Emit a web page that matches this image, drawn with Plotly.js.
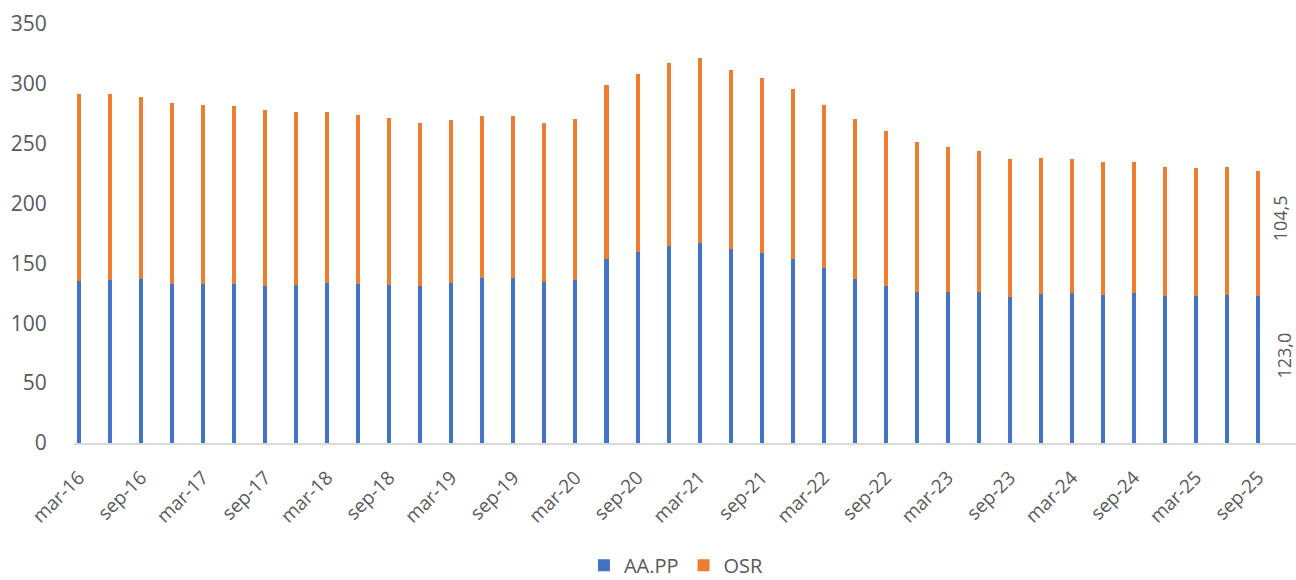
<!DOCTYPE html>
<html>
<head>
<meta charset="utf-8">
<script src="https://cdn.plot.ly/plotly-3.0.1.min.js"></script>
<style>html,body{margin:0;padding:0;background:#fff;}#chart{width:1296px;height:580px;}</style>
</head>
<body>
<div id="chart"></div>
<script>
const categories = [
  "mar-16","jun-16","sep-16","dic-16",
  "mar-17","jun-17","sep-17","dic-17",
  "mar-18","jun-18","sep-18","dic-18",
  "mar-19","jun-19","sep-19","dic-19",
  "mar-20","jun-20","sep-20","dic-20",
  "mar-21","jun-21","sep-21","dic-21",
  "mar-22","jun-22","sep-22","dic-22",
  "mar-23","jun-23","sep-23","dic-23",
  "mar-24","jun-24","sep-24","dic-24",
  "mar-25","jun-25","sep-25"
];
const aapp = [
  135.6,136.4,136.7,133.1,
  132.6,133.1,131.4,132.0,
  133.9,133.1,132.0,130.9,
  133.9,138.1,138.1,134.5,
  136.4,153.7,159.8,164.8,
  167.1,161.8,159.0,153.7,
  145.9,137.0,131.4,126.4,
  126.4,126.1,122.0,124.7,
  125.6,123.9,125.3,122.5,
  123.1,123.6,123.0
];
const osr = [
  155.7,154.9,152.3,151.2,
  150.0,148.7,146.5,144.3,
  142.4,141.2,139.2,136.4,
  136.2,135.1,134.8,132.6,
  134.0,145.4,148.2,152.9,
  154.3,149.6,145.9,142.3,
  136.5,133.4,129.2,125.1,
  121.1,117.8,115.0,113.1,
  111.4,111.1,109.4,107.8,
  106.9,107.0,104.5
];
const seriesNames = ["AA.PP","OSR"];
const tickLabels = ["mar-16","sep-16","mar-17","sep-17","mar-18","sep-18","mar-19","sep-19","mar-20","sep-20",
  "mar-21","sep-21","mar-22","sep-22","mar-23","sep-23","mar-24","sep-24","mar-25","sep-25"];

const FONT = "Open Sans, Liberation Sans, sans-serif";
const GREY = "#595959";
const fmt = v => v.toFixed(1).replace('.', ',');

const last = categories.length - 1;
const traces = [
  {type:'bar', name:seriesNames[0], x:categories, y:aapp, width:0.13,
   marker:{color:'#4472C4'}, hoverinfo:'x+y+name'},
  {type:'bar', name:seriesNames[1], x:categories, y:osr, width:0.13,
   marker:{color:'#ED7D31'}, hoverinfo:'x+y+name'}
];

const layout = {
  width:1296, height:580,
  margin:{l:74, r:0, t:24, b:137, autoexpand:false},
  paper_bgcolor:'#fff', plot_bgcolor:'#fff',
  barmode:'stack',
  font:{family:FONT, color:GREY, size:20},
  showlegend:true,
  legend:{orientation:'h', x:0.493, xanchor:'center', y:-0.292, yanchor:'middle',
          font:{family:FONT, size:20, color:GREY}, traceorder:'normal', itemwidth:30},
  xaxis:{type:'category', range:[-0.16, 39.22], tickmode:'array', tickvals:tickLabels, ticktext:tickLabels,
         tickangle:-45, tickfont:{family:FONT, size:19, color:GREY}, automargin:false,
         ticklabelstandoff:14,
         showline:true, linecolor:'#d9d9d9', linewidth:2, showgrid:false, zeroline:false,
         ticks:'', fixedrange:true},
  yaxis:{range:[0,350], dtick:50, tick0:0, showgrid:false, zeroline:false, showline:false, automargin:false,
         tickfont:{family:FONT, size:21, color:GREY}, ticks:'outside', ticklen:22,
         tickcolor:'rgba(0,0,0,0)', fixedrange:true},
  annotations:[
    {x:categories[last], y:aapp[last]/2, xref:'x', yref:'y', text:fmt(aapp[last]), showarrow:false,
     textangle:-90, xshift:26, yshift:14, font:{family:FONT, size:18, color:GREY}},
    {x:categories[last], y:aapp[last]+osr[last]/2, xref:'x', yref:'y', text:fmt(osr[last]), showarrow:false,
     textangle:-90, xshift:22, yshift:15, font:{family:FONT, size:18, color:GREY}}
  ]
};

Plotly.newPlot('chart', traces, layout, {displayModeBar:false, staticPlot:true});
</script>
</body>
</html>
